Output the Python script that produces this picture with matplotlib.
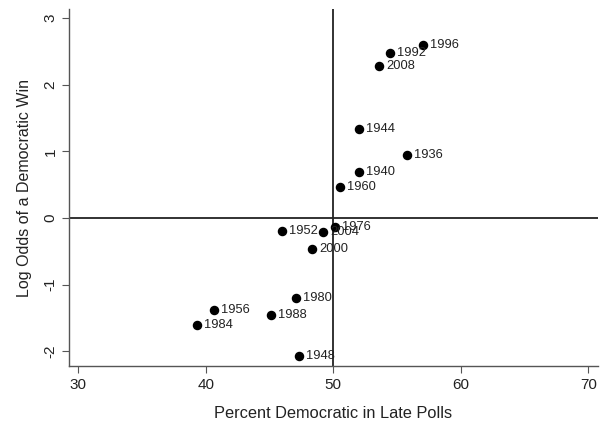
import numpy as np
import matplotlib.pyplot as plt

plt.rcParams['font.family'] = ['Liberation Sans', 'DejaVu Sans']
plt.rcParams['axes.unicode_minus'] = False

years = ['1936', '1940', '1944', '1948', '1952', '1956', '1960', '1976',
         '1980', '1984', '1988', '1992', '1996', '2000', '2004', '2008']
polls = [55.78, 51.99, 51.99, 47.33, 45.95, 40.62, 50.53, 50.13,
         47.07, 39.33, 45.09, 54.45, 57.06, 48.33, 49.22, 53.61]
logodds = [0.94, 0.69, 1.33, -2.07, -0.19, -1.38, 0.46, -0.13,
           -1.20, -1.60, -1.46, 2.47, 2.59, -0.47, -0.21, 2.28]

fig = plt.figure(figsize=(6.08, 4.25), dpi=100)
ax = fig.add_axes([0.114, 0.139, 0.869, 0.839])

ax.axvline(50, color='#222222', lw=1.3, zorder=1)
ax.axhline(0, color='#222222', lw=1.3, zorder=1)
ax.scatter(polls, logodds, s=34, color='black', zorder=3)
for yr, x, y in zip(years, polls, logodds):
    ax.annotate(yr, (x, y), xytext=(5, 0), textcoords='offset points',
                va='center', ha='left', fontsize=9.3, color='#222222')

ax.set_xlim(29.29, 70.74)
ax.set_ylim(-2.22, 3.13)
ax.set_xticks([30, 40, 50, 60, 70])
ax.set_yticks([-2, -1, 0, 1, 2, 3])
for s in ['top', 'right']:
    ax.spines[s].set_visible(False)
for s in ['left', 'bottom']:
    ax.spines[s].set_color('#555555')
    ax.spines[s].set_linewidth(1.0)
ax.tick_params(direction='out', length=5, color='#555555', labelsize=11,
               labelcolor='#222222')
plt.setp(ax.get_yticklabels(), rotation=90, va='center')
ax.set_xlabel('Percent Democratic in Late Polls', fontsize=11.8, color='#222222', labelpad=10)
ax.set_ylabel('Log Odds of a Democratic Win', fontsize=11.5, color='#222222', labelpad=8)

fig.savefig('out.png', dpi=100)
